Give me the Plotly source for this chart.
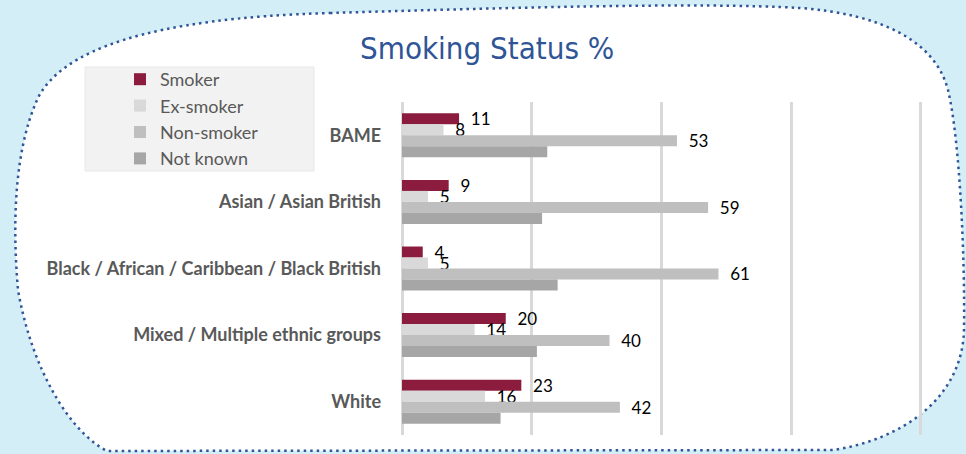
import plotly.graph_objects as go

# ---------------- data ----------------
categories = ["BAME", "Asian / Asian British", "Black / African / Caribbean / Black British",
              "Mixed / Multiple ethnic groups", "White"]
smoker = [11, 9, 4, 20, 23]
ex_smoker = [8, 5, 5, 14, 16]
non_smoker = [53, 59, 61, 40, 42]
not_known = [28, 27, 30, 26, 19]
series_names = ["Smoker", "Ex-smoker", "Non-smoker", "Not known"]
x_ticks = [0, 25, 50, 75, 100]

# ---------------- layout geometry ----------------
W, H = 966, 454
L, R, T, B = 402, 40, 102, 19
PW, PH = W - L - R, H - T - B


def px(xp):
    return (xp - L) / PW


def py(yp):
    return (H - B - yp) / PH


colors = ["#8C1C3E", "#D9D9D9", "#BFBFBF", "#A6A6A6"]
values = [smoker, ex_smoker, non_smoker, not_known]

fig = go.Figure()
for i, (name, vals, col) in enumerate(zip(series_names, values, colors)):
    labelled = i < 3
    fig.add_trace(go.Bar(
        name=name, y=categories, x=vals, orientation="h",
        marker=dict(color=col, line=dict(width=0)),
        texttemplate="\u00a0\u00a0%{x}" if labelled else None,
        textposition="outside" if labelled else "none",
        textfont=dict(family="Lato, sans-serif", size=17, color="#000000"),
        constraintext="none", cliponaxis=False, textangle=0,
        hoverinfo="skip",
    ))


def blob_path():
    pts = [
        ("M", [(330, 13)]),
        ("C", [(500, 8), (700, 2), (800, 8)]),
        ("C", [(880, 14), (935, 40), (948, 90)]),
        ("C", [(960, 140), (965, 260), (964, 330)]),
        ("C", [(962, 400), (900, 440), (833, 450)]),
        ("L", [(107, 451)]),
        ("C", [(70, 432), (32, 370), (18, 290)]),
        ("C", [(12, 220), (15, 150), (37, 100)]),
        ("C", [(60, 50), (150, 18), (330, 13)]),
    ]
    s = ""
    for cmd, ps in pts:
        s += cmd + " " + " ".join(f"{px(a):.5f},{py(b):.5f}" for a, b in ps) + " "
    return s + "Z"


shapes = [
    dict(type="path", xref="paper", yref="paper", path=blob_path(),
         fillcolor="#FFFFFF", line=dict(color="#2F5597", width=2.5, dash="2.5px,4px"),
         layer="below"),
    dict(type="rect", xref="paper", yref="paper", x0=px(85), x1=px(314), y0=py(171), y1=py(67),
         fillcolor="#F2F2F2", line=dict(color="#E8E8E8", width=1), layer="below"),
]

fig.update_layout(
    width=W, height=H,
    margin=dict(l=L, r=R, t=T, b=B, autoexpand=False),
    paper_bgcolor="#D3EEF7", plot_bgcolor="rgba(0,0,0,0)",
    barmode="group", bargap=0.34, bargroupgap=0,
    showlegend=True,
    legend=dict(x=px(120), y=py(61), xanchor="left", yanchor="top",
                bgcolor="rgba(0,0,0,0)", traceorder="normal",
                font=dict(family="Lato, sans-serif", size=18, color="#595959"),
                itemclick=False, itemdoubleclick=False, tracegroupgap=0),
    shapes=shapes,
    annotations=[dict(text="Smoking Status %", xref="paper", yref="paper",
                      x=px(487), y=py(48), xanchor="center", yanchor="middle",
                      showarrow=False,
                      font=dict(family="Liberation Sans Narrow, DejaVu Sans Condensed, sans-serif",
                                size=31, color="#2F5597"))],
    xaxis=dict(range=[0, 101], tickvals=x_ticks, showticklabels=False, ticks="",
               showgrid=True, gridcolor="#D9D9D9", gridwidth=2.5,
               zeroline=True, zerolinecolor="#D9D9D9", zerolinewidth=2.5,
               showline=False, fixedrange=True),
    yaxis=dict(autorange="reversed", showgrid=False, zeroline=False, ticks="",
               ticklabelstandoff=20,
               tickfont=dict(family="Lato, sans-serif", size=18, color="#595959", weight="bold"),
               fixedrange=True),
)

fig.write_html("out.html", config={"displayModeBar": False},
               post_script="document.body.style.margin='0px';")
